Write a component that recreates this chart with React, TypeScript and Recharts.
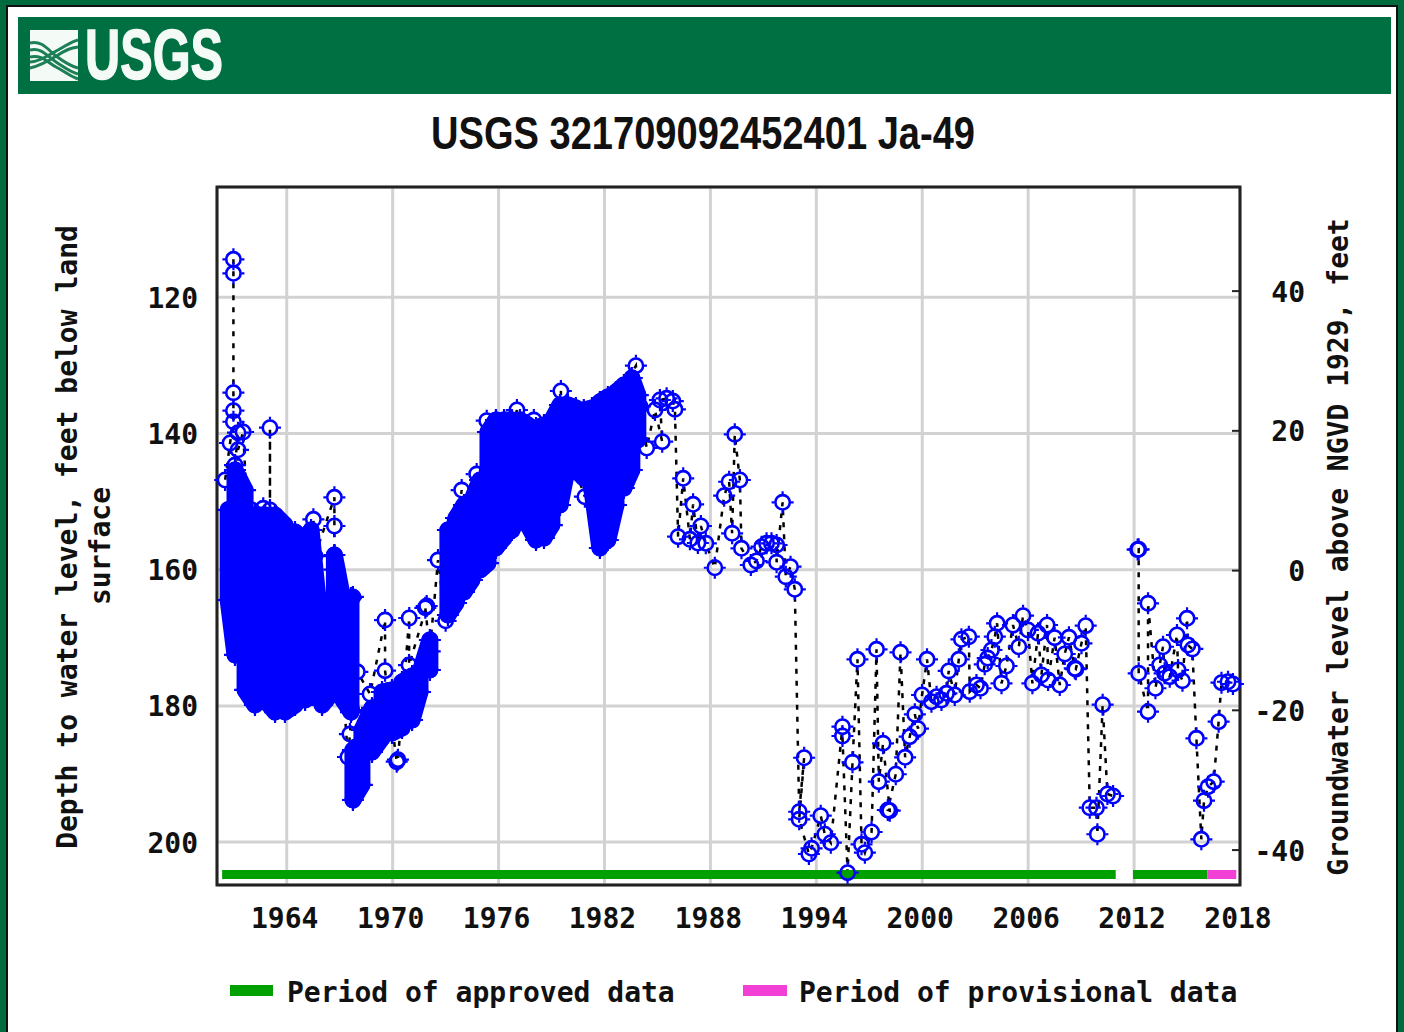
import {
  CartesianGrid,
  ComposedChart,
  Line,
  ReferenceArea,
  XAxis,
  YAxis,
} from "recharts";

// Readings are [decimal year, depth to water in feet], in time order
const spikeReadings = [
  [1960.98, 114.42], [1960.98, 116.48], [1960.98, 134.01], [1960.98, 136.65], [1960.98, 138.27],
  [1960.79, 141.39], [1960.51, 146.83], [1961.07, 144.63], [1961.24, 139.88], [1961.24, 142.4],
  [1961.53, 139.78], [1961.8, 153], [1962.02, 151.23], [1962.67, 150.98], [1963.05, 151.23],
  [1963.05, 139.15], [1963.05, 158], [1965.2, 160], [1965.51, 152.6], [1965.6, 158],
  [1966.7, 149.37], [1966.7, 153.58], [1966.7, 160], [1967.47, 187.5], [1967.58, 184.13],
  [1967.68, 180.6], [1967.75, 164.0], [1968.0, 175], [1968.72, 178.25], [1969.57, 167.39],
  [1969.57, 174.83], [1970.23, 188.19], [1970.3, 187.9], [1970.94, 167.09], [1970.93, 174.0],
  [1971.93, 165.33], [1971.85, 165.6], [1972.1, 172], [1972.57, 158.58], [1973.0, 167.5],
  [1973.91, 148.3], [1974.0, 155], [1974.76, 145.95], [1975.0, 152], [1975.33, 138.12],
  [1975.6, 150], [1977.04, 136.55], [1977.1, 145], [1978.0, 138.02], [1978.1, 145],
  [1979.53, 133.76], [1979.6, 140], [1980.89, 149.28], [1981.0, 142], [1983.78, 130.04],
  [1984.0, 136],
];

const laterReadings = [
  [1984.0, 136], [1984.39, 142.13], [1984.86, 136.55], [1985.27, 141.2], [1985.14, 135.08],
  [1985.52, 134.83], [1985.87, 135.23], [1985.99, 136.45], [1986.17, 155.15], [1986.46, 146.58],
  [1986.84, 155.54], [1987.02, 150.4], [1987.29, 156.08], [1987.46, 153.58], [1987.74, 156.12],
  [1988.25, 159.71], [1988.78, 149.13], [1989.06, 147.08], [1989.23, 154.65], [1989.38, 140.12],
  [1989.67, 146.83], [1989.76, 156.86], [1990.29, 159.31], [1990.61, 158.72], [1990.9, 156.62],
  [1991.18, 156.12], [1991.46, 156.12], [1991.75, 156.37], [1991.75, 158.91], [1992.09, 150.1],
  [1992.27, 161.03], [1992.54, 159.56], [1992.78, 162.88], [1993.03, 195.54], [1993.31, 187.61],
  [1993.03, 196.65], [1993.58, 201.75], [1993.73, 200.91], [1994.25, 196.12], [1994.48, 198.85],
  [1994.82, 200.09], [1995.48, 183.05], [1995.48, 184.42], [1995.77, 204.49], [1996.05, 188.28],
  [1996.33, 173.16], [1996.56, 200.32], [1996.75, 201.56], [1997.13, 198.52], [1997.41, 171.69],
  [1997.54, 191.13], [1997.78, 185.49], [1998.16, 195.39], [1998.05, 195.29], [1998.5, 190.04],
  [1998.77, 172.13], [1999.03, 187.55], [1999.29, 184.52], [1999.58, 181.23], [1999.76, 183.35],
  [1999.99, 178.4], [2000.27, 173.16], [2000.52, 179.38], [2000.81, 178.65], [2001.09, 179.13],
  [2001.37, 178.15], [2001.5, 174.87], [2001.84, 178.4], [2002.07, 173.16], [2002.22, 170.22],
  [2002.64, 169.84], [2002.69, 177.91], [2003.07, 176.93], [2003.3, 177.41], [2003.54, 173.89],
  [2003.71, 172.97], [2003.92, 171.79], [2004.11, 169.84], [2004.24, 167.87], [2004.49, 176.68],
  [2004.77, 174.14], [2005.14, 168.12], [2005.47, 171.31], [2005.71, 166.75], [2005.99, 168.85],
  [2006.24, 176.68], [2006.56, 169.34], [2006.75, 175.46], [2007.07, 168.12], [2007.13, 176.2],
  [2007.5, 169.98], [2007.79, 176.93], [2008.07, 172.38], [2008.31, 169.93], [2008.64, 174.48],
  [2008.7, 174.6], [2009.02, 170.81], [2009.26, 168.22], [2009.49, 194.95], [2009.87, 194.95],
  [2009.92, 198.85], [2010.22, 179.82], [2010.49, 192.94], [2010.81, 193.23],
];

const recentReadings = [
  [2012.2, 157.05], [2012.26, 157.0], [2012.26, 175.21], [2012.79, 180.85], [2012.79, 164.93],
  [2013.21, 177.41], [2013.45, 173.99], [2013.64, 171.31], [2013.73, 175.21], [2014.02, 175.71],
  [2014.43, 169.59], [2014.49, 174.73], [2014.74, 176.3], [2015.0, 167.14], [2015.05, 171.06],
  [2015.3, 171.64], [2015.53, 184.76], [2015.81, 199.59], [2015.96, 193.92], [2016.19, 191.86],
  [2016.51, 191.13], [2016.79, 182.32], [2016.95, 176.59], [2017.32, 176.45], [2017.6, 176.78],
];

// Dense monitoring years, where the markers merge into one solid mass
const dense1960s = [
  [1960.68, 151.2], [1960.68, 164.45], [1961.07, 172.52], [1961.07, 145.36], [1961.64, 148.3],
  [1961.64, 177.66], [1962.2, 179.87], [1962.2, 151.97], [1962.77, 151.97], [1962.77, 179.13],
  [1963.34, 180.9], [1963.34, 151.97], [1963.9, 153.44], [1963.9, 180.9], [1964.47, 179.87],
  [1964.47, 154.46], [1965.04, 155.64], [1965.04, 179.13], [1965.38, 178.4], [1965.38, 154.17],
  [1966.0, 170.32], [1966.0, 179.87], [1966.7, 177.66], [1966.7, 157.84], [1967.19, 164.45],
  [1967.19, 179.13], [1967.64, 180.9], [1967.64, 164.16],
];

const denseDecline = [
  [1967.75, 186.48], [1967.75, 193.82], [1968.26, 191.61], [1968.26, 183.54], [1968.83, 180.3],
  [1968.83, 186.77], [1969.4, 184.71], [1969.4, 177.96], [1969.96, 177.66], [1969.96, 183.98],
  [1970.53, 183.24], [1970.53, 176.49], [1971.1, 175.61], [1971.1, 182.07], [1971.55, 177.96],
  [1971.55, 175.02], [1972.11, 170.32], [1972.11, 174.73],
];

const denseRise = [
  [1973.13, 154.17], [1973.13, 166.65], [1973.59, 164.89], [1973.59, 152.41], [1974.04, 150.5],
  [1974.04, 163.27], [1974.49, 161.51], [1974.49, 149.77], [1974.95, 146.83], [1974.95, 160.04],
  [1975.4, 159.02], [1975.4, 139.78], [1975.85, 138.02], [1975.85, 156.81], [1976.31, 155.34],
  [1976.31, 138.02], [1976.76, 138.02], [1976.76, 154.17], [1977.21, 151.53], [1977.21, 138.02],
  [1977.66, 138.75], [1977.66, 153.44], [1978.12, 155.64], [1978.12, 139.19], [1978.57, 138.75],
  [1978.57, 155.34], [1979.02, 153.44], [1979.02, 138.02], [1979.48, 135.81], [1979.48, 150.5],
  [1979.93, 144.63], [1979.93, 135.81], [1980.38, 136.25], [1980.38, 145.36], [1980.83, 146.53],
  [1980.83, 136.55], [1981.29, 136.25], [1981.29, 148.3], [1981.74, 156.81], [1981.74, 135.37],
  [1982.19, 134.64], [1982.19, 155.64], [1982.65, 150.5], [1982.65, 133.91], [1983.1, 132.88],
  [1983.1, 148.0], [1983.55, 145.36], [1983.55, 131.85], [1983.89, 134.35], [1983.89, 140.95],
];

const approvedPeriodA = [[1960.34, 204.76], [2010.96, 204.76]];
const approvedPeriodB = [[2011.94, 204.76], [2016.15, 204.76]];
const provisionalPeriod = [[2016.15, 204.76], [2017.79, 204.76]];

// The right axis has no series of its own, this only keeps it on the chart
const ngvdRange = [[1990, -45], [1990, 54.9]];

const yearTicks = [1964, 1970, 1976, 1982, 1988, 1994, 2000, 2006, 2012, 2018];
const depthTicks = [120, 140, 160, 180, 200];
const ngvdTicks = [40, 20, 0, -20, -40];

const toRows = (readings: number[][]) =>
  readings.map(([year, depth]) => ({ year, depth }));

const BLUE = "#0000ff";
const MONO = "'DejaVu Sans Mono', monospace";
const NARROW = "'Liberation Sans Narrow', 'Liberation Sans', sans-serif";

function RingDot({ cx, cy, index }: any) {
  return (
    <g key={index} stroke={BLUE} fill="none">
      <circle cx={cx} cy={cy} r={7.2} strokeWidth={2.6} />
      <path d={`M${cx} ${cy - 11}V${cy - 8}M${cx} ${cy + 8}V${cy + 11}M${cx - 11} ${cy}H${cx - 8}M${cx + 8} ${cy}H${cx + 11}`} strokeWidth={2.2} />
    </g>
  );
}

function LeftTick({ x, y, payload }: any) {
  return (
    <text x={x - 11} y={y + 1} textAnchor="end" dominantBaseline="central" fontFamily={MONO} fontWeight="bold" fontSize={28} fill="#111">
      {payload.value}
    </text>
  );
}

function RightTick({ x, y, payload }: any) {
  return (
    <g>
      <line x1={x - 16} x2={x - 8} y1={y} y2={y} stroke="#222" strokeWidth={2} />
      <text x={x + 57} y={y + 1} textAnchor="end" dominantBaseline="central" fontFamily={MONO} fontWeight="bold" fontSize={28} fill="#111">
        {payload.value}
      </text>
    </g>
  );
}

function BottomTick({ x, y, payload }: any) {
  return (
    <text x={x - 2} y={y + 25} textAnchor="middle" dominantBaseline="central" fontFamily={MONO} fontWeight="bold" fontSize={28} fill="#111">
      {payload.value}
    </text>
  );
}

// Page frame, agency banner, titles and legend behind the plot
function Backdrop() {
  const label = { fontFamily: MONO, fontWeight: "bold", fontSize: 28, fill: "#111" };
  return (
    <svg width={1404} height={1032} style={{ position: "absolute", left: 0, top: 0 }}>
      <rect width={1404} height={1032} fill="#006b3f" />
      <rect x={7} y={6} width={1390} height={1030} fill="#fff" stroke="#111" strokeWidth={2} />
      <rect x={18} y={17} width={1373} height={77} fill="#006f41" />
      <rect x={30} y={30} width={48} height={51} fill="#f4faf6" />
      <path d="M30 43C42 40 48 50 56 56S70 66 78 68M30 50C42 47 48 57 56 62S70 72 78 74M30 57C42 54 48 63 56 67S70 76 78 79" fill="none" stroke="#1d7f55" strokeWidth={3} />
      <path d="M30 62C40 62 50 54 58 50S70 42 78 40M30 68C40 66 50 60 58 55S70 48 78 47" fill="none" stroke="#1d7f55" strokeWidth={3} />
      <text x={85} y={79} fontFamily={NARROW} fontWeight="bold" fontSize={70} fill="#f4faf6" stroke="#f4faf6" strokeWidth={1.5} textLength={138} lengthAdjust="spacingAndGlyphs">
        USGS
      </text>
      <text x={431} y={149} fontFamily={NARROW} fontWeight="bold" fontSize={46} fill="#111" textLength={544} lengthAdjust="spacingAndGlyphs">
        USGS 321709092452401 Ja-49
      </text>
      <text {...label} transform="translate(77 537) rotate(-90)" textAnchor="middle">
        Depth to water level, feet below land
      </text>
      <text {...label} transform="translate(110 546) rotate(-90)" textAnchor="middle">
        surface
      </text>
      <text {...label} transform="translate(1348 547) rotate(-90)" textAnchor="middle">
        Groundwater level above NGVD 1929, feet
      </text>
      <rect x={230} y={985} width={43} height={11} fill="#00a000" />
      <text {...label} x={287} y={1002}>Period of approved data</text>
      <rect x={743} y={985} width={44} height={11} fill="#f23fd6" />
      <text {...label} x={799} y={1002}>Period of provisional data</text>
    </svg>
  );
}

export default function App() {
  return (
    <div style={{ position: "absolute", left: 0, top: 0, width: 1404, height: 1032 }}>
      <Backdrop />
      <div style={{ position: "absolute", left: 0, top: 0 }}>
        <ComposedChart width={1404} height={1032} margin={{ top: 187, right: 0, bottom: 0, left: 0 }}>
          <CartesianGrid stroke="#d2d2d2" strokeWidth={3} xAxisId={0} yAxisId="depth" />
          <XAxis
            xAxisId={0}
            type="number"
            dataKey="year"
            domain={[1960.05, 2018]}
            ticks={yearTicks}
            height={147}
            interval={0}
            axisLine={false}
            tickLine={false}
            tick={BottomTick}
          />
          <YAxis
            yAxisId="depth"
            type="number"
            reversed
            domain={[103.8, 206.3]}
            ticks={depthTicks}
            width={217}
            interval={0}
            axisLine={false}
            tickLine={false}
            tick={LeftTick}
          />
          <YAxis
            yAxisId="ngvd"
            orientation="right"
            type="number"
            domain={[-45, 54.9]}
            ticks={ngvdTicks}
            width={164}
            interval={0}
            axisLine={false}
            tickLine={false}
            tick={RightTick}
          />
          <Line yAxisId="ngvd" data={toRows(ngvdRange)} dataKey="depth" stroke="none" dot={false} isAnimationActive={false} />
          <Line yAxisId="depth" data={toRows(spikeReadings)} dataKey="depth" stroke="#000" strokeWidth={2.5} strokeDasharray="5 7" dot={RingDot} isAnimationActive={false} />
          <Line yAxisId="depth" data={toRows(laterReadings)} dataKey="depth" stroke="#000" strokeWidth={2.5} strokeDasharray="5 7" dot={RingDot} isAnimationActive={false} />
          <Line yAxisId="depth" data={toRows(recentReadings)} dataKey="depth" stroke="#000" strokeWidth={2.5} strokeDasharray="5 7" dot={RingDot} isAnimationActive={false} />
          <Line yAxisId="depth" data={toRows(dense1960s)} dataKey="depth" stroke={BLUE} strokeWidth={17} strokeLinejoin="round" strokeLinecap="round" dot={RingDot} isAnimationActive={false} />
          <Line yAxisId="depth" data={toRows(denseDecline)} dataKey="depth" stroke={BLUE} strokeWidth={17} strokeLinejoin="round" strokeLinecap="round" dot={RingDot} isAnimationActive={false} />
          <Line yAxisId="depth" data={toRows(denseRise)} dataKey="depth" stroke={BLUE} strokeWidth={17} strokeLinejoin="round" strokeLinecap="round" dot={RingDot} isAnimationActive={false} />
          <Line yAxisId="depth" data={toRows(approvedPeriodA)} dataKey="depth" stroke="#00a000" strokeWidth={9} dot={false} isAnimationActive={false} />
          <Line yAxisId="depth" data={toRows(approvedPeriodB)} dataKey="depth" stroke="#00a000" strokeWidth={9} dot={false} isAnimationActive={false} />
          <Line yAxisId="depth" data={toRows(provisionalPeriod)} dataKey="depth" stroke="#f23fd6" strokeWidth={9} dot={false} isAnimationActive={false} />
          <ReferenceArea yAxisId="depth" x1={1960.05} x2={2018} y1={103.8} y2={206.3} fill="none" stroke="#222" strokeWidth={3} />
        </ComposedChart>
      </div>
    </div>
  );
}
